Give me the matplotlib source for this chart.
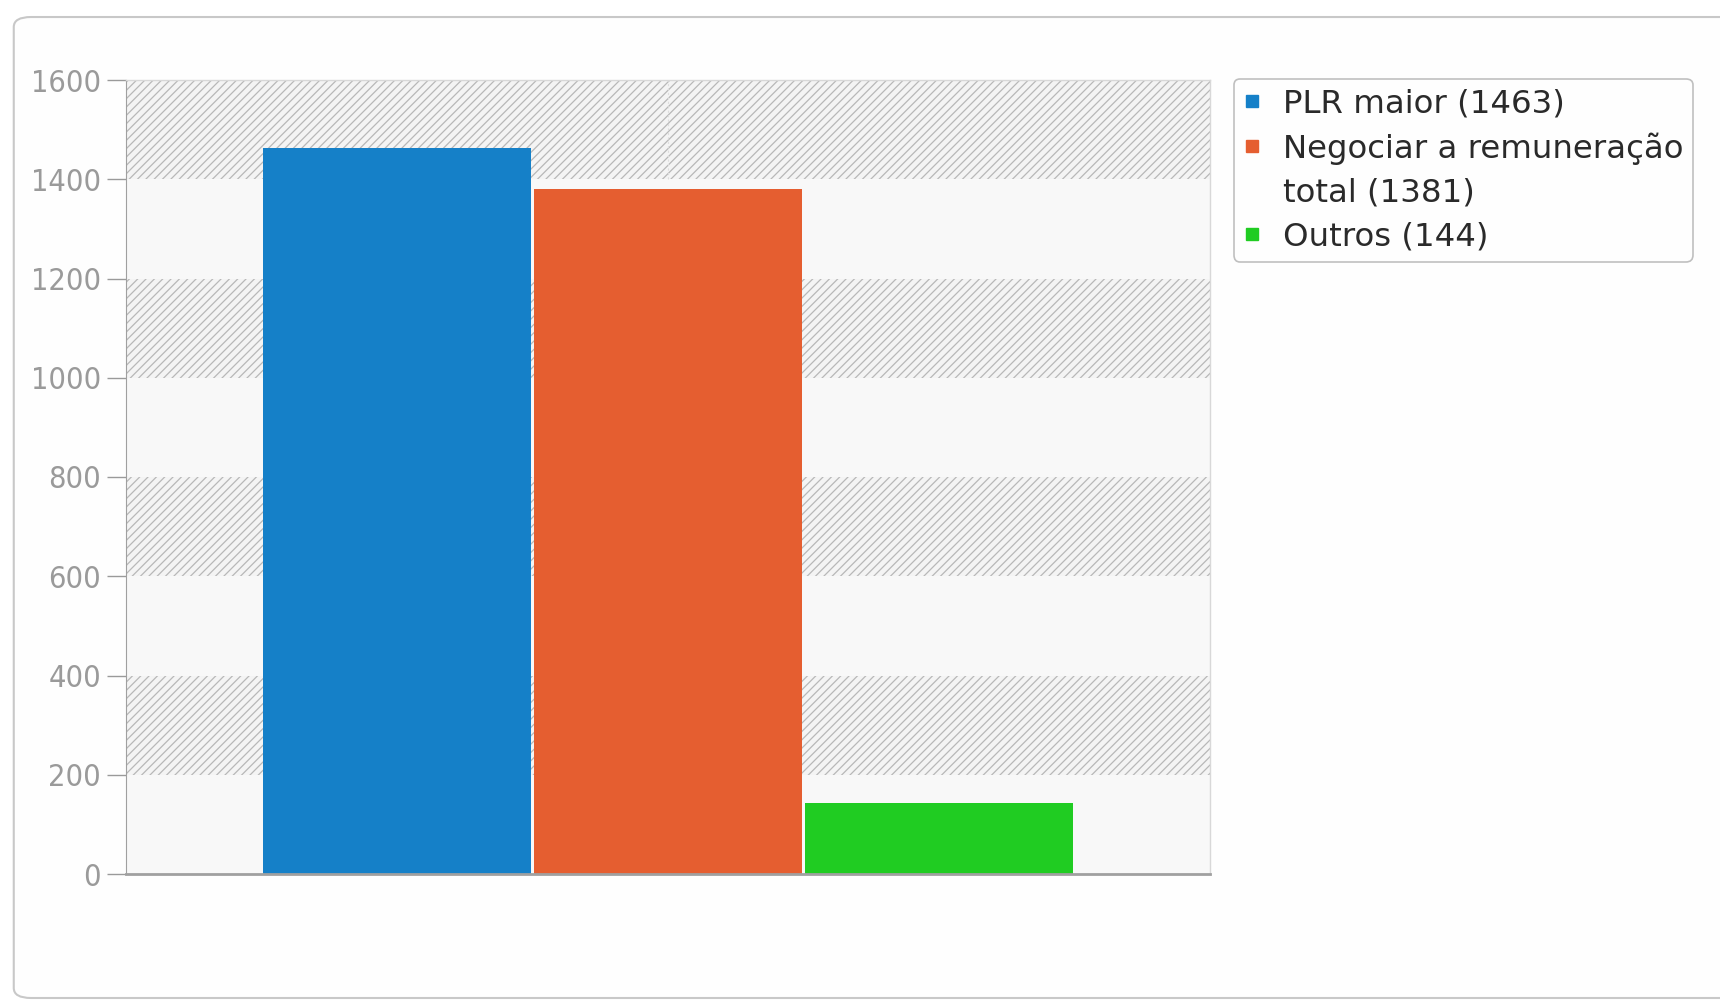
import matplotlib.pyplot as plt
from matplotlib.patches import FancyBboxPatch
from matplotlib.lines import Line2D

# dados
rotulos = ['PLR maior (1463)', 'Negociar a remuneração\ntotal (1381)', 'Outros (144)']
valores = [1463, 1381, 144]
cores = ['#1580c8', '#e55e30', '#20cc22']
faixas_y = [0, 200, 400, 600, 800, 1000, 1200, 1400, 1600]

plt.rcParams['hatch.color'] = '#b8b8b8'
plt.rcParams['hatch.linewidth'] = 0.9

fig = plt.figure(figsize=(17.2, 10.01), dpi=100)
fig.patch.set_facecolor('white')

# moldura arredondada em volta de tudo
moldura = FancyBboxPatch((0.008, 0.003), 1.05, 0.98, boxstyle='round,pad=0,rounding_size=0.01',
                         transform=fig.transFigure, facecolor='#fefefe', edgecolor='#c8c8c8',
                         linewidth=1.5, zorder=-5)
fig.patches.append(moldura)

ax = fig.add_axes([126 / 1720, 1 - 874 / 1001, 1084 / 1720, 794 / 1001])
ax.set_zorder(2)
ax.set_facecolor('#f8f8f8')

# faixas alternadas hachuradas
for i in range(1, len(faixas_y) - 1, 2):
    ax.axhspan(faixas_y[i], faixas_y[i + 1], facecolor='#f4f4f4', edgecolor='#b8b8b8',
               hatch='////', linewidth=0, zorder=0)

x = range(len(valores))
ax.bar(x, valores, width=0.99, color=cores, zorder=2)
ax.axvline(1, ymin=7 / 8, color='#dddddd', linewidth=0.8, linestyle=(0, (2, 2)), zorder=1)

ax.set_xlim(-1, 3)
ax.set_ylim(0, 1600)
ax.set_yticks(faixas_y)
ax.set_xticks([])
ax.tick_params(axis='y', colors='#9a9a9a', labelsize=22, length=14, width=1, pad=4)
for lab in ax.get_yticklabels():
    lab.set_fontstretch('condensed')

for lado in ['top', 'right']:
    ax.spines[lado].set_color('#d8d8d8')
    ax.spines[lado].set_linewidth(1)
ax.spines['left'].set_color('#a0a0a0')
ax.spines['bottom'].set_color('#a0a0a0')
ax.spines['bottom'].set_linewidth(2)

# legenda: uma linha por entrada, o marcador fica na primeira linha de cada rótulo
handles, textos = [], []
for rot, c in zip(rotulos, cores):
    for j, linha in enumerate(rot.split('\n')):
        handles.append(Line2D([], [], marker='s', linestyle='none', markersize=8,
                              color=c if j == 0 else 'none'))
        textos.append(linha)

leg = fig.legend(handles, textos, loc='upper left', bbox_to_anchor=(1234 / 1720, 1 - 79 / 1001),
                 fontsize=23.3, frameon=True, handlelength=0.5, handletextpad=0.7,
                 labelspacing=0.39, borderpad=0.3, borderaxespad=0, fancybox=True,
                 edgecolor='#b0b0b0')
leg.set_zorder(3)
leg.get_frame().set_linewidth(1.2)
for t in leg.get_texts():
    t.set_color('#2a2a2a')

fig.savefig('out.png', dpi=100, facecolor='white')
